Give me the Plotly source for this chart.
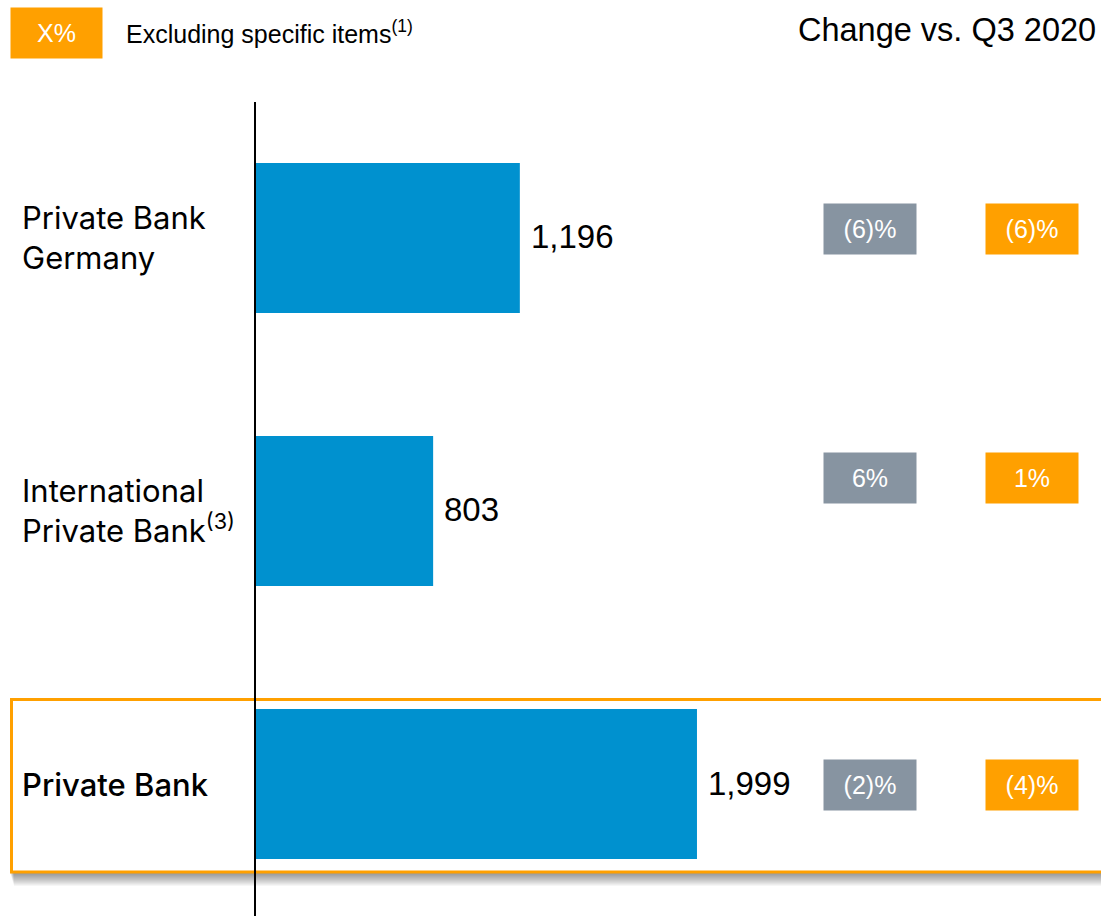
import plotly.graph_objects as go

# Revenue by business unit (EUR m) and change vs. Q3 2020
categories = ["Private Bank Germany", "International Private Bank", "Private Bank"]
category_labels = ["Private Bank<br>Germany", "International<br>Private Bank<sup>(3)</sup>", "Private Bank"]
values = [1196, 803, 1999]
value_labels = ["1,196", "803", "1,999"]
change_reported = ["(6)%", "6%", "(2)%"]
change_excl_items = ["(6)%", "1%", "(4)%"]

W, H = 1101, 916
BLUE = "#0091CF"
GREY = "#8794A1"
ORANGE = "#FFA000"
LABEL_FONT = "Inter"
NUM_FONT = "Liberation Sans"


def px_x(p):
    return p / W


def px_y(p):
    return 1 - p / H


fig = go.Figure()
fig.add_trace(go.Bar(
    y=categories, x=values, orientation="h",
    marker=dict(color=BLUE, line=dict(width=0)),
    width=0.55, hoverinfo="skip",
))

annotations = []
shapes = []

# Highlight frame around the total row, with a soft drop shadow
for k in range(1, 14):
    shapes.append(dict(
        type="rect", xref="paper", yref="paper", layer="below",
        x0=px_x(10 + k * 0.3), x1=1.05, y0=px_y(873 + k), y1=px_y(700 + k),
        fillcolor="rgba(0,0,0,0.035)", line=dict(width=0),
    ))
shapes.append(dict(
    type="rect", xref="paper", yref="paper", layer="below",
    x0=px_x(11.5), x1=1.05, y0=px_y(872), y1=px_y(699.5),
    fillcolor="white", line=dict(color=ORANGE, width=3),
))

# Row labels, value labels and change boxes
box_shift = [9, 33, -1]
for i, cat in enumerate(categories):
    bold = i == 2
    annotations.append(dict(
        x=px_x(20), xref="paper", y=cat, yref="y", xanchor="left", yanchor="middle",
        text=category_labels[i], align="left", showarrow=False,
        font=dict(family=LABEL_FONT, size=31, color="#000000", weight=500 if bold else 400),
    ))
    annotations.append(dict(
        x=values[i], xref="x", y=cat, yref="y", xanchor="left", yanchor="middle",
        xshift=9, yshift=1, text=value_labels[i], showarrow=False,
        font=dict(family=NUM_FONT, size=33, color="#000000"),
    ))
    for xc, txt, col in ((870, change_reported[i], GREY), (1032, change_excl_items[i], ORANGE)):
        annotations.append(dict(
            x=px_x(xc), xref="paper", y=cat, yref="y", xanchor="center", yanchor="middle",
            yshift=box_shift[i], text=txt, showarrow=False, width=92, height=50,
            bgcolor=col, borderpad=0, valign="middle",
            font=dict(family=NUM_FONT, size=25, color="#ffffff"),
        ))

# Header: key and column title
annotations.append(dict(
    x=px_x(56.5), xref="paper", y=px_y(33), yref="paper", xanchor="center", yanchor="middle",
    text="X%", showarrow=False, width=91, height=50, bgcolor=ORANGE, borderpad=0,
    font=dict(family=NUM_FONT, size=25, color="#ffffff"),
))
annotations.append(dict(
    x=px_x(124), xref="paper", y=px_y(32), yref="paper", xanchor="left", yanchor="middle",
    text="Excluding specific items<sup>(1)</sup>", showarrow=False,
    font=dict(family=NUM_FONT, size=25, color="#000000"),
))
annotations.append(dict(
    x=px_x(1098), xref="paper", y=px_y(30), yref="paper", xanchor="right", yanchor="middle",
    text="Change vs. Q3 2020", showarrow=False,
    font=dict(family=NUM_FONT, size=32.5, color="#000000"),
))

fig.update_layout(
    width=W, height=H,
    margin=dict(l=0, r=0, t=0, b=0),
    paper_bgcolor="white", plot_bgcolor="rgba(0,0,0,0)",
    showlegend=False,
    xaxis=dict(domain=[256 / W, 1], range=[0, 845 / 0.2206], visible=False, fixedrange=True),
    yaxis=dict(
        domain=[0, (H - 102) / H], range=[2.4835, -0.498], showticklabels=False,
        showgrid=False, zeroline=False, showline=True, linecolor="#000000", linewidth=2,
        ticks="", fixedrange=True,
    ),
    annotations=annotations,
    shapes=shapes,
)

fig.write_html("out.html")
